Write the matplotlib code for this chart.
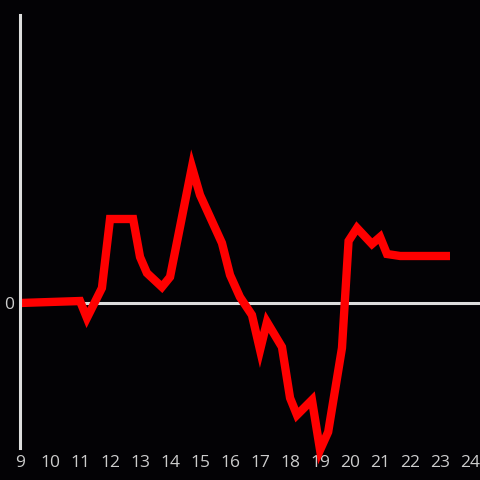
import matplotlib
matplotlib.use("Agg")
import matplotlib.pyplot as plt

hours = [9, 11, 11.23, 11.73, 12, 12.77, 13, 13.23, 13.73, 14, 14.73, 15,
         15.73, 16, 16.33, 16.73, 17, 17.23, 17.73, 18, 18.23, 18.73, 19,
         19.27, 19.73, 19.95, 20.23, 20.73, 21, 21.23, 21.67, 23.33]
values = [0, 2, -15, 15, 84, 84, 46, 30, 16, 26, 136, 108,
          60, 28, 6, -12, -47, -19, -44, -95, -112, -97, -147,
          -129, -45, 62, 75, 59, 66, 49, 47, 47]
xticks = list(range(9, 25))

bg = "#030205"
fg = "#dddddd"
plt.rcParams["font.family"] = ["Open Sans", "DejaVu Sans"]

fig = plt.figure(figsize=(4.8, 4.8), dpi=100, facecolor=bg)
ax = fig.add_axes([20 / 480, 1 - 448 / 480, 460 / 480, 433 / 480], facecolor=bg)

ax.plot(hours, values, color="#ff0000", linewidth=6, clip_on=False,
        solid_joinstyle="miter", solid_capstyle="butt", zorder=2)
ax.axhline(0, color=fg, linewidth=2.2, zorder=1)

ax.set_xlim(9, 24.33)
ax.set_ylim(-145, 288)

for s in ["top", "right", "bottom"]:
    ax.spines[s].set_visible(False)
ax.spines["left"].set_color(fg)
ax.spines["left"].set_linewidth(2.2)
ax.spines["left"].set_zorder(3)

ax.set_xticks(xticks)
ax.set_xticklabels([str(t) for t in xticks])
ax.set_yticks([0])
ax.set_yticklabels(["0"])
ax.tick_params(colors="#cccccc", length=0, labelsize=12.5)
ax.tick_params(axis="x", pad=5)
ax.tick_params(axis="y", pad=4)

fig.savefig("out.png", dpi=100, facecolor=bg)
